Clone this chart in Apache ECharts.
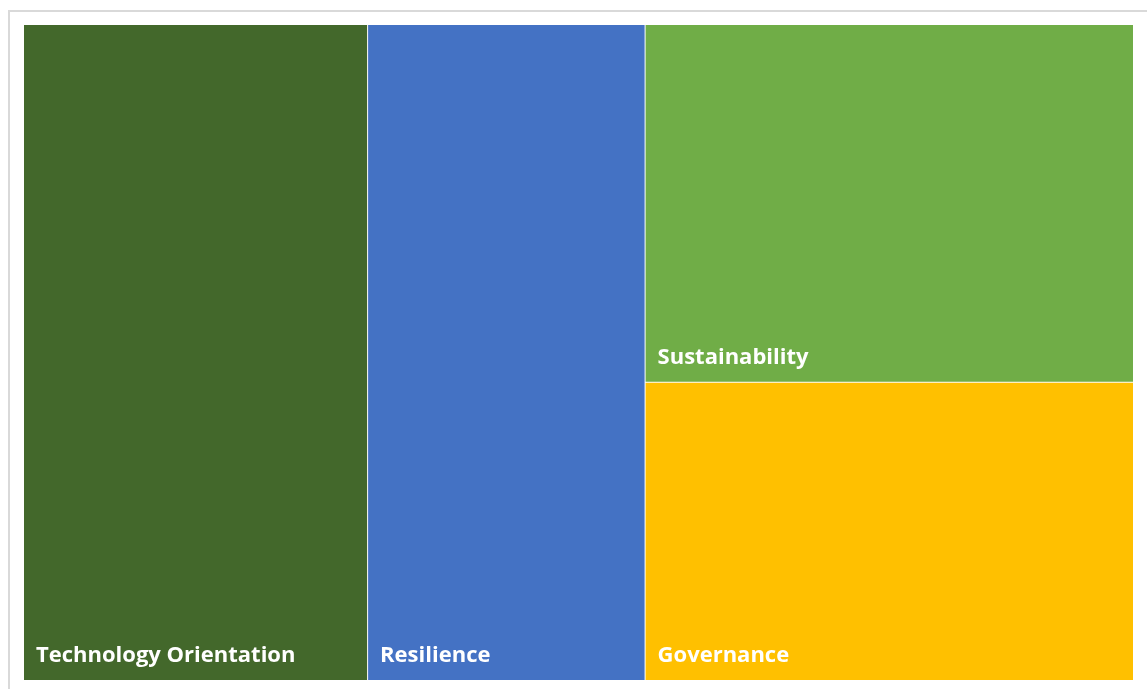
<!DOCTYPE html>
<html>
<head>
<meta charset="utf-8">
<script src="https://cdn.jsdelivr.net/npm/echarts@6/dist/echarts.min.js"></script>
<style>
html,body{margin:0;padding:0;background:#fff;}
#chart{width:1147px;height:689px;}
</style>
</head>
<body>
<div id="chart"></div>
<script>
// Data (shares of the whole)
const categories = ['Technology Orientation', 'Resilience', 'Sustainability', 'Governance'];
const values = [31, 25, 24, 20];
const colors = ['#43682B', '#4472C4', '#70AD47', '#FFC000'];

const chart = echarts.init(document.getElementById('chart'), null, {renderer: 'canvas'});
const data = categories.map((name, i) => ({
  name: name,
  value: values[i],
  itemStyle: {color: colors[i]}
}));

chart.setOption({
  animation: false,
  graphic: [{
    type: 'rect',
    shape: {x: 9, y: 11, width: 1300, height: 800},
    style: {fill: 'none', stroke: '#d9d9d9', lineWidth: 2},
    silent: true,
    z: -10
  }],
  series: [{
    type: 'treemap',
    left: 24,
    top: 25,
    width: 1109,
    height: 655,
    sort: false,
    squareRatio: 0.7,
    roam: false,
    nodeClick: false,
    breadcrumb: {show: false},
    itemStyle: {borderWidth: 0, gapWidth: 1, borderColor: '#fff'},
    levels: [{itemStyle: {borderWidth: 0, gapWidth: 1, borderColor: '#fff'}}],
    label: {
      show: true,
      position: 'insideBottomLeft',
      distance: 0,
      offset: [7, -8],
      color: '#fff',
      fontFamily: 'Open Sans',
      fontWeight: 'bold',
      fontSize: 22
    },
    data: data
  }]
});
</script>
</body>
</html>
